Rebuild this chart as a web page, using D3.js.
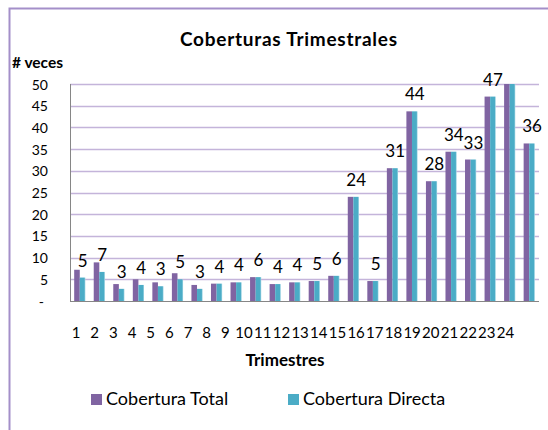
<!DOCTYPE html>
<html>
<head>
<meta charset="utf-8">
<script src="https://cdn.jsdelivr.net/npm/d3@7"></script>
<style>
  body { margin: 0; background: #fff; }
  text { font-family: Lato, "Open Sans", sans-serif; fill: #000; }
</style>
</head>
<body>
<svg id="chart" width="548" height="430"></svg>
<script>
const trimestres = d3.range(1, 25).map(String)
const coberturaTotal = [7.2, 8.9, 3.9, 5.0, 4.3, 6.4, 3.7, 4.0, 4.3, 5.5, 3.9, 4.3,
  4.6, 5.8, 24.0, 4.6, 30.6, 43.7, 27.6, 34.4, 32.6, 47.1, 52.0, 36.3]
const coberturaDirecta = [5.4, 6.7, 2.8, 3.7, 3.4, 5.0, 2.8, 4.0, 4.3, 5.5, 3.9, 4.3,
  4.6, 5.8, 24.0, 4.6, 30.6, 43.7, 27.6, 34.4, 32.6, 47.1, 52.0, 36.3]
const yTicks = [0, 5, 10, 15, 20, 25, 30, 35, 40, 45, 50]
const seriesNames = ['Cobertura Total', 'Cobertura Directa']
const colors = ['#8064A2', '#4BACC6']

const svg = d3.select('#chart')

// outer chart frame (runs off the right/bottom edge)
svg.append('rect')
  .attr('x', 9.5).attr('y', 8.5)
  .attr('width', 560).attr('height', 440)
  .attr('fill', 'none')
  .attr('stroke', '#A48FC9')
  .attr('stroke-width', 2)

const plot = { left: 70, right: 539, top: 84, bottom: 301 }

const x = d3.scaleBand()
  .domain(trimestres)
  .range([plot.left, plot.right])

// bars: gap width 150% -> bar = step / 3.5
const bw = x.step() / 3.5
const x1 = d3.scaleBand()
  .domain(seriesNames)
  .range([0.75 * bw, 2.75 * bw])

const y = d3.scaleLinear()
  .domain([0, 50])
  .range([plot.bottom, plot.top])
  .clamp(true)

const defs = svg.append('defs')
const grad = defs.append('linearGradient').attr('id', 'cyanGrad')
grad.append('stop').attr('offset', '0%').attr('stop-color', '#4BACC6')
grad.append('stop').attr('offset', '78%').attr('stop-color', '#4BACC6')
grad.append('stop').attr('offset', '100%').attr('stop-color', '#A6D8E6')

// gridlines
svg.append('g')
  .selectAll('line')
  .data(yTicks.filter(d => d > 0))
  .join('line')
    .attr('x1', plot.left).attr('x2', plot.right)
    .attr('y1', d => Math.round(y(d)) + 0.5)
    .attr('y2', d => Math.round(y(d)) + 0.5)
    .attr('stroke', '#C4B4DA')
    .attr('stroke-width', 1.3)

// y tick labels
svg.append('g')
  .selectAll('text')
  .data(yTicks)
  .join('text')
    .attr('x', d => d === 0 ? 44 : 48)
    .attr('y', d => y(d) + 5.5)
    .attr('text-anchor', 'end')
    .style('font-size', '14px')
    .text(d => d === 0 ? '-' : d)

const data = trimestres.map((t, i) => ({
  t,
  values: [coberturaTotal[i], coberturaDirecta[i]]
}))

const groups = svg.append('g')
  .selectAll('g')
  .data(data)
  .join('g')
    .attr('transform', d => `translate(${x(d.t)},0)`)

groups.selectAll('rect')
  .data(d => d.values.map((v, k) => ({ v, k })))
  .join('rect')
    .attr('x', d => x1(seriesNames[d.k]))
    .attr('width', x1.bandwidth())
    .attr('y', d => y(d.v))
    .attr('height', d => y(0) - y(d.v))
    .attr('fill', d => d.k === 1 ? 'url(#cyanGrad)' : colors[0])

// data labels (Cobertura Directa), hidden when out of the axis range
groups.filter(d => d.values[1] <= 50)
  .append('text')
    .attr('x', x1('Cobertura Directa') + x1.bandwidth() / 2)
    .attr('y', d => y(d.values[1]) - 11)
    .attr('text-anchor', 'middle')
    .style('font-size', '17px')
    .text(d => Math.round(d.values[1]))

// axes lines
svg.append('line')
  .attr('x1', plot.left + 0.5).attr('x2', plot.left + 0.5)
  .attr('y1', plot.top).attr('y2', plot.bottom)
  .attr('stroke', '#868686')
svg.append('line')
  .attr('x1', plot.left).attr('x2', plot.right)
  .attr('y1', plot.bottom + 0.5).attr('y2', plot.bottom + 0.5)
  .attr('stroke', '#868686')

// category labels (Excel squeezes them slightly to the left)
const xLab = d3.scalePoint()
  .domain(trimestres)
  .range([76, 505.5])
svg.append('g')
  .selectAll('text')
  .data(trimestres)
  .join('text')
    .attr('x', d => xLab(d))
    .attr('y', 338)
    .attr('text-anchor', 'middle')
    .style('font-size', '15px')
    .text(d => d)

// titles
svg.append('text')
  .attr('x', 288.5).attr('y', 46)
  .attr('text-anchor', 'middle')
  .style('font-size', '19px').style('font-weight', 'bold')
  .attr('textLength', 217)
  .text('Coberturas Trimestrales')

svg.append('text')
  .attr('x', 12).attr('y', 68)
  .style('font-size', '15.5px').style('font-weight', 'bold')
  .text('# veces')

svg.append('text')
  .attr('x', 285).attr('y', 366)
  .attr('text-anchor', 'middle')
  .style('font-size', '17px').style('font-weight', 'bold')
  .text('Trimestres')

// legend
const legendX = [91, 288]
const legend = svg.append('g')
  .selectAll('g')
  .data(seriesNames)
  .join('g')
    .attr('transform', (d, i) => `translate(${legendX[i]},394)`)
legend.append('rect')
  .attr('width', 11).attr('height', 11)
  .attr('fill', (d, i) => colors[i])
legend.append('text')
  .attr('x', 15).attr('y', 11)
  .style('font-size', '18px')
  .text(d => d)
</script>
</body>
</html>
